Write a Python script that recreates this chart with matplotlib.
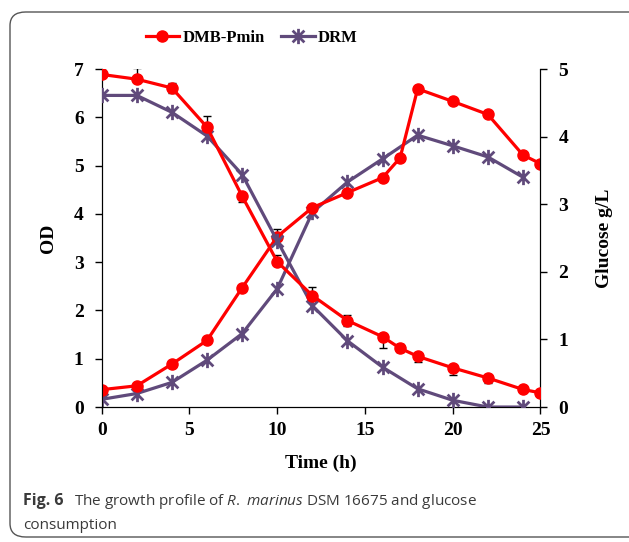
import numpy as np
import matplotlib
matplotlib.use('Agg')
import matplotlib.pyplot as plt
from matplotlib.path import Path
from matplotlib.patches import FancyBboxPatch

# OD (growth) curves, left axis
t_dmb = [0, 2, 4, 6, 8, 10, 12, 14, 16, 17, 18, 20, 22, 24, 25]
od_dmb = [0.36, 0.44, 0.89, 1.38, 2.47, 3.53, 4.13, 4.44, 4.75, 5.16, 6.59, 6.33, 6.06, 5.22, 5.04]
od_dmb_err_up = [0, 0, 0, 0, 0, 0.15, 0, 0, 0, 0, 0, 0, 0, 0, 0]

t_drm = [0, 2, 4, 6, 8, 10, 12, 14, 16, 18, 20, 22, 24]
od_drm = [0.16, 0.28, 0.51, 0.97, 1.52, 2.45, 4.03, 4.66, 5.14, 5.63, 5.41, 5.18, 4.76]

# glucose curves, right axis
glc_dmb = [4.92, 4.85, 4.72, 4.14, 3.12, 2.15, 1.65, 1.28, 1.04, 0.87, 0.75, 0.58, 0.43, 0.26, 0.21]
glc_dmb_err_lo = [0, 0, 0.08, 0, 0.09, 0, 0, 0.08, 0.17, 0.06, 0.08, 0.11, 0.07, 0, 0]
glc_dmb_err_up = [0.10, 0.16, 0.08, 0.16, 0, 0.10, 0.12, 0.08, 0, 0.06, 0, 0, 0, 0, 0]
glc_drm = [4.61, 4.61, 4.36, 4.01, 3.44, 2.46, 1.50, 0.98, 0.59, 0.27, 0.10, 0.0, 0.0]

red = '#FF0000'
purple = '#604A7B'

# excel style star: X plus vertical bar
star = Path([(-1, -1), (1, 1), (-1, 1), (1, -1), (0, -1.3), (0, 1.3)],
            [Path.MOVETO, Path.LINETO, Path.MOVETO, Path.LINETO, Path.MOVETO, Path.LINETO])

plt.rcParams['font.family'] = 'Liberation Serif'
plt.rcParams['mathtext.fontset'] = 'custom'
plt.rcParams['mathtext.rm'] = 'Open Sans'
plt.rcParams['mathtext.it'] = 'Open Sans:italic'

fig = plt.figure(figsize=(6.29, 5.42), dpi=100)
ax = fig.add_axes([0.1617, 0.249, 0.6976, 0.6236])
ax2 = ax.twinx()

box = FancyBboxPatch((10 / 629, 5 / 542), 640 / 629, 525 / 542, transform=fig.transFigure,
                     boxstyle='round,pad=0,rounding_size=0.025', fc='none', ec='#555555', lw=1.0)
fig.patches.append(box)

ax.errorbar(t_dmb, od_dmb, yerr=[np.zeros(len(od_dmb)), od_dmb_err_up], color=red, lw=2.3,
            marker='o', ms=8, ecolor='black', elinewidth=1, capsize=3, zorder=3)
ax.plot(t_drm, od_drm, color=purple, lw=2.3, marker=star, ms=11, mew=2, zorder=3)
ax2.errorbar(t_dmb, glc_dmb, yerr=[glc_dmb_err_lo, glc_dmb_err_up], color=red, lw=2.3,
             marker='o', ms=8, ecolor='black', elinewidth=1, capsize=3, zorder=3)
ax2.plot(t_drm, glc_drm, color=purple, lw=2.3, marker=star, ms=11, mew=2, zorder=3)

ax.set_xlim(0, 25)
ax.set_ylim(0, 7)
ax2.set_ylim(0, 5)
ax.set_xticks([0, 5, 10, 15, 20, 25])
ax.set_yticks(range(8))
ax2.set_yticks(range(6))
for a in (ax, ax2):
    a.spines['top'].set_visible(False)
    a.tick_params(direction='out', length=5, width=1, labelsize=14, pad=6)
    for lab in a.get_xticklabels() + a.get_yticklabels():
        lab.set_fontweight('bold')
ax.tick_params(axis='y', pad=8)
ax2.tick_params(axis='y', pad=8)

ax.set_xlabel('Time (h)', fontsize=14, fontweight='bold', labelpad=11)
ax.set_ylabel('OD', fontsize=14, fontweight='bold', labelpad=12)
ax2.set_ylabel('Glucose g/L', fontsize=14, fontweight='bold', labelpad=20)

h1, = ax.plot([], [], color=red, lw=2.3, marker='o', ms=8)
h2, = ax.plot([], [], color=purple, lw=2.3, marker=star, ms=11, mew=2)
fig.legend([h1, h2], ['DMB-Pmin', 'DRM'], loc='center', bbox_to_anchor=(0.40, 0.93), ncol=2,
           frameon=False, handlelength=2.0, handletextpad=0.2, columnspacing=1.0,
           prop={'weight': 'bold', 'size': 12})

cap_color = '#3a3a3a'
fig.text(0.036, 0.068, 'Fig. 6', fontsize=11.5, fontweight='bold', family='Open Sans',
         color=cap_color, va='baseline')
fig.text(0.118, 0.068, 'The growth profile of $\\mathit{R.}$ $\\mathit{marinus}$ DSM 16675 and glucose',
         fontsize=11, family='Open Sans', color=cap_color, va='baseline')
fig.text(0.036, 0.024, 'consumption', fontsize=11, family='Open Sans',
         color=cap_color, va='baseline')

fig.savefig('out.png', dpi=100)
